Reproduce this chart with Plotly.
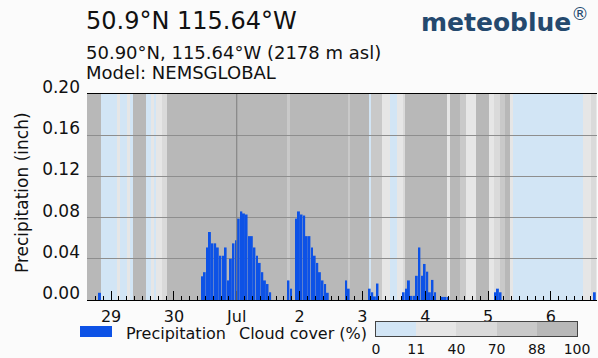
import plotly.graph_objects as go
import pandas as pd

# ---------------- data ----------------
first_hour = '2024-06-28 14:45'          # centre of the first hourly value
x_range = ['2024-06-28 14:48', '2024-07-06 17:36']

# hourly precipitation (inch)
precip_inch = [
    0, 0, 0, 0, 0, 0.007, 0, 0, 0, 0,
    0, 0, 0, 0, 0, 0, 0, 0, 0, 0,
    0, 0, 0, 0, 0, 0, 0, 0, 0, 0,
    0, 0, 0, 0, 0, 0, 0, 0, 0, 0,
    0, 0, 0, 0, 0.023, 0.027, 0.051, 0.066, 0.055, 0.055,
    0.051, 0.043, 0.043, 0.051, 0.019, 0.040, 0.055, 0.058, 0.079, 0.086,
    0.084, 0.083, 0.062, 0.062, 0.051, 0.043, 0.036, 0.027, 0.019, 0.0155,
    0.0075, 0, 0, 0, 0, 0, 0, 0.019, 0.011, 0,
    0.079, 0.086, 0.083, 0.082, 0.062, 0.062, 0.051, 0.043, 0.036, 0.027,
    0.019, 0.0155, 0.007, 0, 0, 0, 0, 0, 0, 0.019,
    0.011, 0, 0, 0, 0, 0, 0, 0, 0.011, 0.0075,
    0.0035, 0.016, 0, 0, 0, 0, 0, 0, 0, 0,
    0, 0.0075, 0.011, 0.019, 0.004, 0.004, 0.0235, 0.051, 0.0235, 0.035,
    0.0275, 0.0075, 0.0195, 0.0075, 0, 0, 0.003, 0.003, 0.003, 0,
    0, 0, 0, 0, 0, 0, 0, 0, 0, 0,
    0, 0, 0, 0, 0, 0, 0.0075, 0.011, 0.0075, 0,
    0, 0, 0, 0, 0, 0, 0, 0, 0, 0,
    0, 0, 0, 0, 0, 0, 0, 0, 0, 0,
    0, 0, 0, 0, 0, 0, 0, 0, 0, 0,
    0, 0, 0, 0, 0.0075,
]

# hourly cloud cover (%)
cloud_cover_pct = [
    95, 95, 95, 95, 95, 95, 5, 5, 5, 5,
    5, 5, 25, 5, 5, 5, 25, 5, 95, 95,
    95, 95, 95, 5, 5, 25, 5, 25, 25, 55,
    55, 95, 95, 95, 95, 95, 95, 95, 95, 95,
    95, 95, 95, 95, 95, 95, 95, 95, 95, 95,
    95, 95, 95, 95, 95, 95, 95, 95, 95, 95,
    95, 95, 95, 95, 95, 95, 95, 95, 95, 95,
    95, 95, 95, 95, 95, 95, 95, 80, 95, 95,
    95, 95, 95, 95, 95, 95, 95, 95, 95, 95,
    95, 95, 95, 95, 95, 95, 95, 95, 95, 95,
    80, 95, 95, 95, 95, 95, 95, 95, 5, 80,
    80, 80, 80, 25, 25, 25, 5, 5, 5, 25,
    25, 55, 95, 95, 95, 95, 95, 95, 95, 95,
    95, 95, 95, 95, 95, 95, 95, 95, 25, 95,
    95, 95, 95, 80, 80, 25, 25, 25, 25, 95,
    95, 95, 95, 95, 25, 25, 55, 55, 80, 80,
    95, 95, 25, 5, 5, 5, 5, 5, 5, 5,
    5, 5, 5, 5, 5, 5, 5, 5, 5, 5,
    5, 5, 5, 5, 5, 5, 5, 5, 5, 5,
    25, 25, 25, 55, 55,
]

day_ticks = ['2024-06-29', '2024-06-30', '2024-07-01', '2024-07-02',
             '2024-07-03', '2024-07-04', '2024-07-05', '2024-07-06']
day_labels = ['29', '30', 'Jul', '2', '3', '4', '5', '6']
month_start = '2024-07-01'

precip_ticks = [0, 0.04, 0.08, 0.12, 0.16, 0.20]
precip_tick_labels = ['0.00', '0.04', '0.08', '0.12', '0.16', '0.20']

cloud_levels = [0, 11, 40, 70, 88, 100]
cloud_colors = ['#d2e5f5', '#e6e6e6', '#dadada', '#c9c9c9', '#b8b8b8']

bar_color = '#0d52e6'
text_color = '#111111'

# ---------------- geometry ----------------
W, H = 598, 358
ML, MR, MT, MB = 80, 1, 94, 10


def px_x(px):
    return (px - ML) / (W - ML - MR)


def px_y(py):
    return (H - MB - py) / (H - MT - MB)


main_x_dom = [px_x(87), 1]
main_y_dom = [px_y(300), 1]
leg_x_dom = [px_x(376), px_x(577)]
leg_y_dom = [px_y(336), px_y(322)]

times = pd.date_range(first_hour, periods=len(precip_inch), freq='h')

colorscale = []
for k, c in enumerate(cloud_colors):
    colorscale.append([cloud_levels[k] / 100, c])
    colorscale.append([cloud_levels[k + 1] / 100, c])

legend_mids = [(a + b) / 2 for a, b in zip(cloud_levels[:-1], cloud_levels[1:])]

fig = go.Figure()

# cloud-cover background
fig.add_trace(go.Heatmap(
    x=times, y=[0, 1], z=[cloud_cover_pct],
    xaxis='x', yaxis='y',
    colorscale=colorscale, zmin=0, zmax=100,
    showscale=False, hoverinfo='skip'))

# precipitation bars
fig.add_trace(go.Bar(
    x=times, y=precip_inch, xaxis='x2', yaxis='y2',
    width=0.75 * 3600 * 1000,
    marker=dict(color=bar_color, line=dict(width=0)),
    name='Precipitation', showlegend=False))

# cloud-cover legend bar
fig.add_trace(go.Heatmap(
    x=list(range(len(legend_mids))), y=[0], z=[legend_mids],
    xaxis='x3', yaxis='y3',
    colorscale=colorscale, zmin=0, zmax=100,
    showscale=False, hoverinfo='skip'))

fig.update_layout(
    width=W, height=H,
    margin=dict(l=ML, r=MR, t=MT, b=MB, autoexpand=False),
    paper_bgcolor='#fbfbfb', plot_bgcolor='rgba(0,0,0,0)',
    font=dict(family='DejaVu Sans', color=text_color, size=16),
    showlegend=False,
    xaxis=dict(domain=main_x_dom, range=x_range, type='date', visible=False,
               anchor='y'),
    yaxis=dict(domain=main_y_dom, range=[0, 1], visible=False, anchor='x'),
    xaxis2=dict(domain=main_x_dom, range=x_range, type='date', anchor='y2',
                tickmode='array', tickvals=day_ticks, ticktext=day_labels,
                ticks='inside', ticklen=9, tickcolor='#000', tickwidth=1,
                showline=True, linecolor='#000', linewidth=1, mirror=True,
                showgrid=False, zeroline=False,
                tickfont=dict(size=16, color=text_color),
                ticklabelstandoff=2,
                minor=dict(tickmode='linear', tick0='2024-06-28',
                           dtick=3 * 3600 * 1000, ticks='inside',
                           ticklen=4, tickcolor='#000', showgrid=False)),
    yaxis2=dict(domain=main_y_dom, range=[0, 0.2], anchor='x2',
                tickmode='array', tickvals=precip_ticks,
                ticktext=precip_tick_labels,
                showgrid=True, gridcolor='#8e8e8e', gridwidth=1,
                zeroline=False, showline=False, ticks='',
                tickfont=dict(size=17, color=text_color),
                ticklabelshift=-7, ticklabelstandoff=6),
    xaxis3=dict(domain=leg_x_dom, range=[-0.5, len(legend_mids) - 0.5],
                anchor='y3', tickmode='array',
                tickvals=[i - 0.5 for i in range(len(cloud_levels))],
                ticktext=[str(v) for v in cloud_levels],
                ticks='', showline=True, mirror=True, linecolor='#444',
                showgrid=False, zeroline=False,
                tickfont=dict(size=14, color=text_color)),
    yaxis3=dict(domain=leg_y_dom, range=[-0.5, 0.5], anchor='x3',
                showticklabels=False, ticks='', showline=True, mirror=True,
                linecolor='#444', showgrid=False, zeroline=False),
)

# month boundary line
fig.add_shape(type='line', xref='x2', yref='y2 domain',
              x0=month_start, x1=month_start, y0=0, y1=1,
              layer='above', line=dict(color='#7c7c7c', width=1))

# legend patch for precipitation
fig.add_shape(type='rect', xref='paper', yref='paper',
              x0=px_x(80), x1=px_x(112), y0=px_y(337), y1=px_y(326),
              fillcolor=bar_color, line=dict(width=0))

annots = [
    dict(text='50.9°N 115.64°W', x=px_x(84), y=px_y(21), size=24),
    dict(text='50.90°N, 115.64°W (2178 m asl)', x=px_x(84), y=px_y(52), size=18),
    dict(text='Model: NEMSGLOBAL', x=px_x(84), y=px_y(73), size=18),
    dict(text='Precipitation', x=px_x(124), y=px_y(333), size=16),
    dict(text='Cloud cover (%)', x=px_x(237), y=px_y(333), size=16),
]
for a in annots:
    fig.add_annotation(text=a['text'], x=a['x'], y=a['y'], xref='paper',
                       yref='paper', xanchor='left', yanchor='middle',
                       showarrow=False,
                       font=dict(size=a['size'], color=text_color))

fig.add_annotation(text='Precipitation (inch)', x=px_x(22), y=px_y(193),
                   xref='paper', yref='paper', xanchor='center',
                   yanchor='middle', textangle=-90, showarrow=False,
                   font=dict(size=17, color=text_color))

fig.add_annotation(text='<b>meteoblue</b><sup>®</sup>', x=px_x(505), y=px_y(20),
                   xref='paper', yref='paper', xanchor='center',
                   yanchor='middle', showarrow=False,
                   font=dict(size=25, color='#24496e'))

fig.write_html('out.html', config={'displayModeBar': False},
               post_script="document.body.style.margin='0px';"
                           "document.body.style.background='#fbfbfb';")
